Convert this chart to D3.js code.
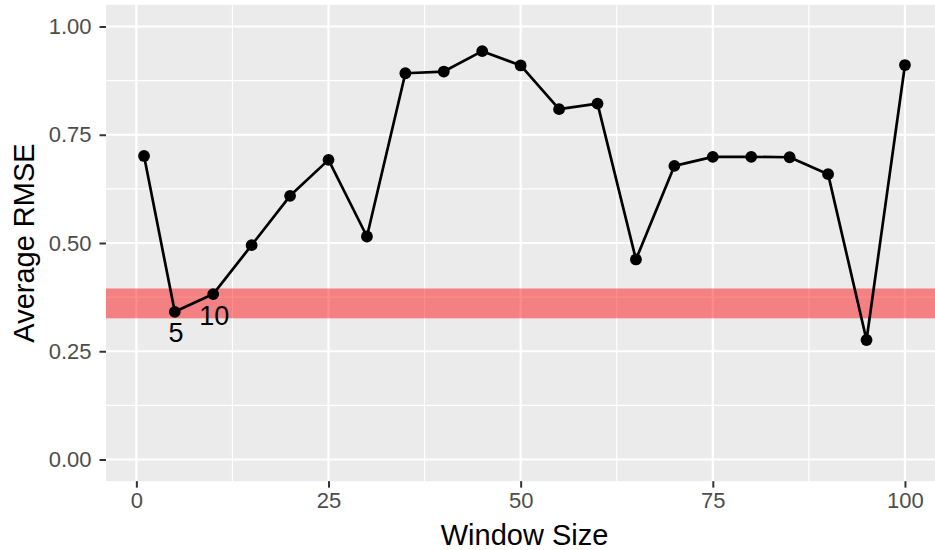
<!DOCTYPE html>
<html>
<head>
<meta charset="utf-8">
<script src="https://cdn.jsdelivr.net/npm/d3@7"></script>
<style>
  html, body { margin: 0; padding: 0; background: #ffffff; }
  svg { display: block; }
  text { font-family: "Liberation Sans", Arial, Helvetica, sans-serif; }
</style>
</head>
<body>
<svg id="chart" width="935" height="550"></svg>
<script>
// Window sizes tested and the average RMSE for each
const windowSize = [1, 5, 10, 15, 20, 25, 30, 35, 40, 45, 50, 55, 60, 65, 70, 75, 80, 85, 90, 95, 100];
const avgRMSE = [0.701, 0.341, 0.382, 0.495, 0.609, 0.692, 0.515, 0.892, 0.896, 0.943, 0.910,
                 0.809, 0.822, 0.462, 0.678, 0.699, 0.699, 0.698, 0.659, 0.276, 0.911];

// Window sizes that get a text label
const labelledWindows = [5, 10];

// Shaded reference band (lower and upper RMSE)
const bandRange = [0.326, 0.395];

// Axis ticks
const xTicks = [0, 25, 50, 75, 100];
const xMinorTicks = [12.5, 37.5, 62.5, 87.5];
const yTicks = [0, 0.25, 0.5, 0.75, 1.0];
const yMinorTicks = [0.125, 0.375, 0.625, 0.875];
const yTickLabels = ["0.00", "0.25", "0.50", "0.75", "1.00"];

const data = windowSize.map((w, i) => ({ w, v: avgRMSE[i] }));

const panel = { left: 106, right: 943, top: 4.85, bottom: 481.15 };

// ggplot-style 5% expansion of the data range
const xExt = d3.extent(windowSize);
const xPad = (xExt[1] - xExt[0]) * 0.05;
const x = d3.scaleLinear()
  .domain([xExt[0] - xPad, xExt[1] + xPad])
  .range([panel.left, panel.right]);
const y = d3.scaleLinear()
  .domain([-0.05, 1.05])
  .range([panel.bottom, panel.top]);

const svg = d3.select("#chart");

// Panel background
svg.append("rect")
  .attr("x", panel.left).attr("y", panel.top)
  .attr("width", panel.right - panel.left)
  .attr("height", panel.bottom - panel.top)
  .attr("fill", "#EBEBEB");

const grid = svg.append("g");
// Minor grid
grid.selectAll("line.xminor").data(xMinorTicks).join("line")
  .attr("x1", d => x(d)).attr("x2", d => x(d))
  .attr("y1", panel.top).attr("y2", panel.bottom)
  .attr("stroke", "#fff").attr("stroke-width", 1.1);
grid.selectAll("line.yminor").data(yMinorTicks).join("line")
  .attr("y1", d => y(d)).attr("y2", d => y(d))
  .attr("x1", panel.left).attr("x2", panel.right)
  .attr("stroke", "#fff").attr("stroke-width", 1.1);
// Major grid
grid.selectAll("line.xmajor").data(xTicks).join("line")
  .attr("x1", d => x(d)).attr("x2", d => x(d))
  .attr("y1", panel.top).attr("y2", panel.bottom)
  .attr("stroke", "#fff").attr("stroke-width", 2.2);
grid.selectAll("line.ymajor").data(yTicks).join("line")
  .attr("y1", d => y(d)).attr("y2", d => y(d))
  .attr("x1", panel.left).attr("x2", panel.right)
  .attr("stroke", "#fff").attr("stroke-width", 2.2);

// Reference band
svg.append("rect")
  .attr("x", panel.left)
  .attr("width", panel.right - panel.left)
  .attr("y", y(bandRange[1]))
  .attr("height", y(bandRange[0]) - y(bandRange[1]))
  .attr("fill", "red")
  .attr("fill-opacity", 0.45);

// Line
svg.append("path")
  .datum(data)
  .attr("fill", "none")
  .attr("stroke", "#000")
  .attr("stroke-width", 2.7)
  .attr("stroke-linejoin", "round")
  .attr("d", d3.line().x(d => x(d.w)).y(d => y(d.v)));

// Points
svg.append("g").selectAll("circle").data(data).join("circle")
  .attr("cx", d => x(d.w))
  .attr("cy", d => y(d.v))
  .attr("r", 5.9)
  .attr("fill", "#000");

// Value labels under selected points
svg.append("g").selectAll("text")
  .data(data.filter(d => labelledWindows.includes(d.w)))
  .join("text")
  .attr("x", d => x(d.w + 0.15))
  .attr("y", d => y(d.v - 0.048))
  .attr("dy", "0.36em")
  .attr("text-anchor", "middle")
  .attr("font-size", 27)
  .attr("fill", "#000")
  .text(d => d.w);

// X axis
const xAxis = svg.append("g")
  .attr("transform", `translate(0,${panel.bottom})`)
  .call(d3.axisBottom(x).tickValues(xTicks).tickSize(6.5).tickPadding(5).tickFormat(d3.format("d")));
xAxis.select(".domain").remove();
xAxis.selectAll(".tick line").attr("stroke", "#333").attr("stroke-width", 2);
xAxis.selectAll(".tick text")
  .attr("fill", "#4D4D4D")
  .attr("font-size", 22)
  .attr("font-family", "Liberation Sans, Arial, sans-serif");

// Y axis
const yAxis = svg.append("g")
  .attr("transform", `translate(${panel.left},0)`)
  .call(d3.axisLeft(y).tickValues(yTicks).tickSize(6.5).tickPadding(8)
    .tickFormat((d, i) => yTickLabels[i]));
yAxis.select(".domain").remove();
yAxis.selectAll(".tick line").attr("stroke", "#333").attr("stroke-width", 2);
yAxis.selectAll(".tick text")
  .attr("fill", "#4D4D4D")
  .attr("font-size", 22)
  .attr("font-family", "Liberation Sans, Arial, sans-serif");

// Axis titles
svg.append("text")
  .attr("x", (panel.left + panel.right) / 2)
  .attr("y", 545)
  .attr("text-anchor", "middle")
  .attr("font-size", 29)
  .attr("fill", "#000")
  .text("Window Size");

svg.append("text")
  .attr("transform", `translate(33.5,${(panel.top + panel.bottom) / 2}) rotate(-90)`)
  .attr("text-anchor", "middle")
  .attr("font-size", 29)
  .attr("fill", "#000")
  .text("Average RMSE");
</script>
</body>
</html>
